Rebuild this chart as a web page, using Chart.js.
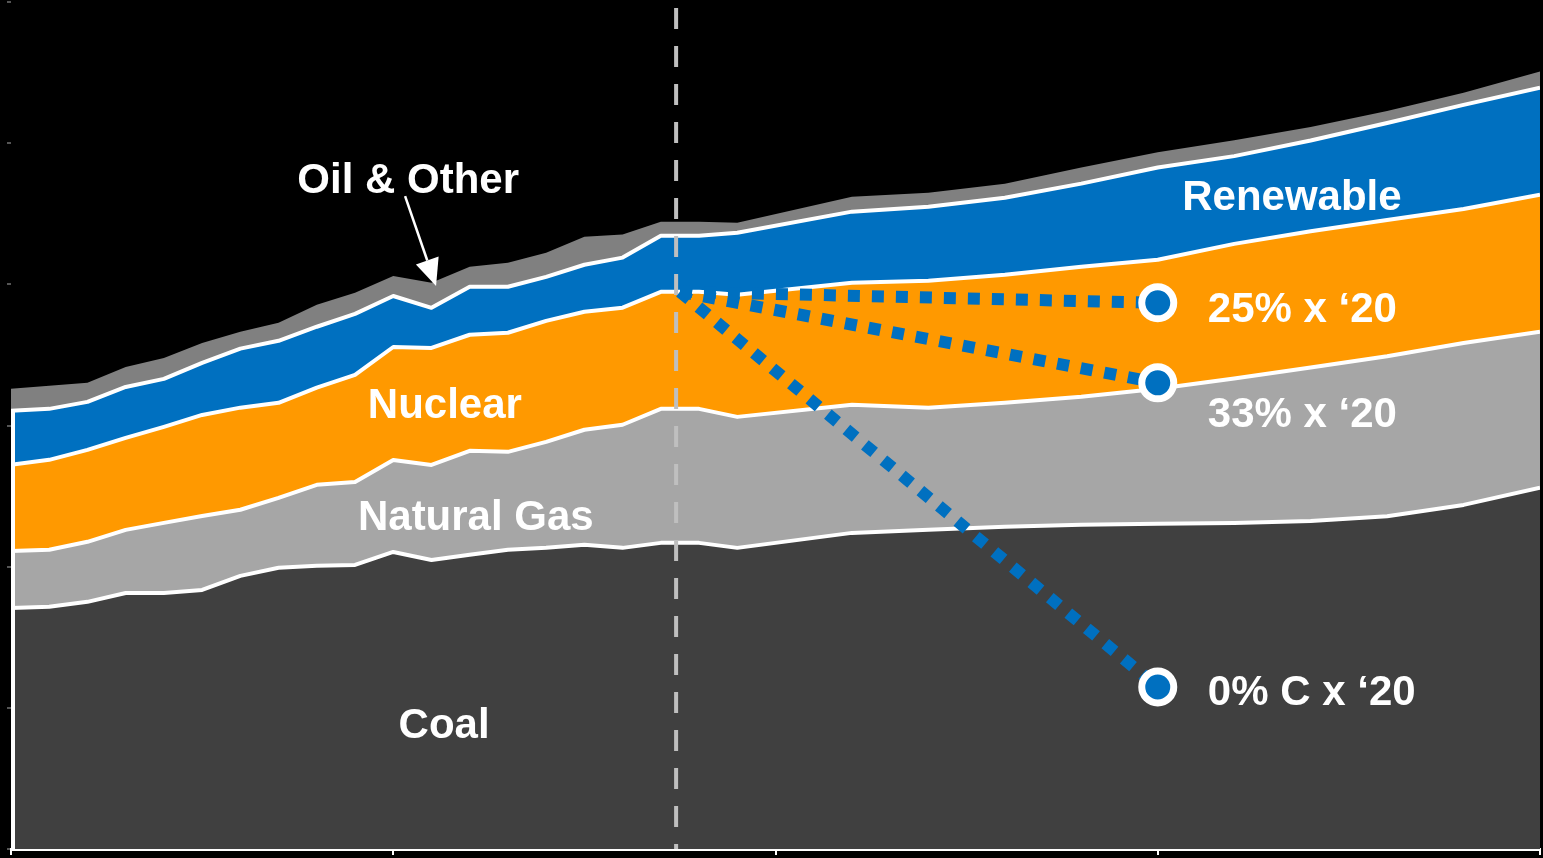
<!DOCTYPE html>
<html>
<head>
<meta charset="utf-8">
<script src="https://cdn.jsdelivr.net/npm/chart.js@4.4.1/dist/chart.umd.min.js"></script>
<style>
  html, body { margin: 0; padding: 0; background: #000; }
  canvas { display: block; }
</style>
</head>
<body>
<canvas id="genChart" width="1543" height="858"></canvas>
<script>
// Production électrique par source (TWh), historique puis projection
const years = [1990, 1991, 1992, 1993, 1994, 1995, 1996, 1997, 1998, 1999,
               2000, 2001, 2002, 2003, 2004, 2005, 2006, 2007, 2008, 2009,
               2012, 2014, 2016, 2018, 2020, 2022, 2024, 2026, 2028, 2030];
const coal = [1594, 1601, 1634, 1693, 1693, 1713, 1806, 1859, 1872, 1878,
              1964, 1911, 1945, 1978, 1991, 2011, 1991, 2024, 2024, 1991,
              2090, 2110, 2130, 2143, 2150, 2156, 2169, 2200, 2275, 2388];
const naturalGas = [377, 377, 397, 417, 463, 489, 437, 463, 536, 549,
                    608, 628, 688, 648, 701, 761, 814, 886, 886, 866,
                    847, 807, 820, 847, 893, 955, 1015, 1058, 1071, 1032];
const nuclear = [569, 595, 608, 608, 635, 668, 675, 628, 642, 708,
                 747, 774, 767, 787, 800, 780, 774, 774, 774, 807,
                 807, 840, 847, 860, 853, 890, 900, 900, 886, 906];
const renewable = [357, 337, 317, 337, 317, 344, 390, 410, 403, 403,
                   337, 265, 317, 304, 291, 311, 331, 370, 370, 410,
                   470, 489, 509, 549, 610, 580, 600, 642, 688, 708];
const oilOther = [146, 152, 126, 132, 139, 132, 112, 119, 146, 139,
                  132, 165, 132, 159, 159, 185, 152, 93, 93, 66,
                  99, 93, 93, 106, 100, 105, 90, 80, 80, 106];

// Scénarios de capture pour 2020
const splitYear = 2007.4;
const startYear = 2007.5;
const startValue = 3684;
const targetYear = 2020;
const targetNames = ['25% x \u201820', '33% x \u201820', '0% C x \u201820'];
const targetValues = [3611, 3082, 1071];

const xTicks = [1990, 2000, 2010, 2020, 2030];

const toPoints = arr => arr.map((v, i) => ({ x: years[i], y: v }));

const layers = [
    { label: 'Coal', data: coal, color: '#404040' },
    { label: 'Natural Gas', data: naturalGas, color: '#A6A6A6' },
    { label: 'Nuclear', data: nuclear, color: '#FF9900' },
    { label: 'Renewable', data: renewable, color: '#0070C0' },
    { label: 'Oil & Other', data: oilOther, color: '#808080' }
];

const areaSets = layers.map((l, i) => ({
    label: l.label,
    data: toPoints(l.data),
    backgroundColor: l.color,
    borderColor: i === layers.length - 1 ? 'rgba(0,0,0,0)' : '#ffffff',
    borderWidth: i === layers.length - 1 ? 0 : 4,
    borderJoinStyle: 'round',
    fill: i === 0 ? 'origin' : '-1',
    pointRadius: 0,
    tension: 0,
    order: 1
}));

const dividerSet = {
    label: 'today',
    data: [{ x: splitYear, y: 5560 }, { x: splitYear, y: 0 }],
    stack: 'divider',
    borderColor: '#BFBFBF',
    borderWidth: 4,
    borderDash: [21, 17],
    pointRadius: 0,
    fill: false,
    order: -1
};

const targetSets = targetValues.map((v, i) => ({
    label: targetNames[i],
    data: [{ x: startYear, y: startValue }, { x: targetYear, y: v }],
    stack: 'target' + i,
    borderColor: '#0070C0',
    borderWidth: 12,
    borderDash: [12, 12],
    borderCapStyle: 'butt',
    pointRadius: [0, 16],
    pointBackgroundColor: '#0070C0',
    pointBorderColor: '#ffffff',
    pointBorderWidth: 7,
    fill: false,
    order: -2
}));

// Textes posés en coordonnées de données
const notes = [
    { text: 'Oil & Other', year: 2000.39, value: 4337, align: 'center' },
    { text: 'Nuclear', year: 2001.35, value: 2850, align: 'center' },
    { text: 'Natural Gas', year: 2002.16, value: 2109, align: 'center' },
    { text: 'Coal', year: 2001.33, value: 734, align: 'center' },
    { text: 'Renewable', year: 2023.51, value: 4225, align: 'center' },
    { text: targetNames[0], year: 2021.31, value: 3484, align: 'left' },
    { text: targetNames[1], year: 2021.31, value: 2790, align: 'left' },
    { text: targetNames[2], year: 2021.31, value: 952, align: 'left' }
];
const arrowFrom = { year: 2000.31, value: 4317 };
const arrowTo = { year: 2001.12, value: 3722 };

const edgePlugin = {
    id: 'leftEdge',
    afterDatasetsDraw(chart) {
        const { ctx, scales: { x, y } } = chart;
        const top = coal[0] + naturalGas[0] + nuclear[0] + renewable[0];
        const px = x.getPixelForValue(years[0]) + 2;
        ctx.save();
        ctx.strokeStyle = '#ffffff';
        ctx.lineWidth = 4;
        ctx.beginPath();
        ctx.moveTo(px, y.getPixelForValue(top));
        ctx.lineTo(px, y.getPixelForValue(0));
        ctx.stroke();
        ctx.restore();
    }
};

const notesPlugin = {
    id: 'notes',
    afterDraw(chart) {
        const { ctx, scales: { x, y } } = chart;
        ctx.save();
        ctx.fillStyle = '#ffffff';
        ctx.font = 'bold 42px "Liberation Sans", Arial, sans-serif';
        ctx.textBaseline = 'alphabetic';
        notes.forEach(n => {
            ctx.textAlign = n.align;
            ctx.fillText(n.text, x.getPixelForValue(n.year), y.getPixelForValue(n.value));
        });

        // flèche vers la bande "Oil & Other"
        const x1 = x.getPixelForValue(arrowFrom.year), y1 = y.getPixelForValue(arrowFrom.value);
        const x2 = x.getPixelForValue(arrowTo.year), y2 = y.getPixelForValue(arrowTo.value);
        const ang = Math.atan2(y2 - y1, x2 - x1);
        const headLen = 27, headHalf = 12;
        const bx = x2 - headLen * Math.cos(ang), by = y2 - headLen * Math.sin(ang);
        ctx.strokeStyle = '#ffffff';
        ctx.lineWidth = 2.5;
        ctx.beginPath();
        ctx.moveTo(x1, y1);
        ctx.lineTo(bx, by);
        ctx.stroke();
        ctx.beginPath();
        ctx.moveTo(x2, y2);
        ctx.lineTo(bx + headHalf * Math.sin(ang), by - headHalf * Math.cos(ang));
        ctx.lineTo(bx - headHalf * Math.sin(ang), by + headHalf * Math.cos(ang));
        ctx.closePath();
        ctx.fill();
        ctx.restore();
    }
};

const ctx = document.getElementById('genChart').getContext('2d');
new Chart(ctx, {
    type: 'line',
    data: { datasets: [...areaSets, dividerSet, ...targetSets] },
    options: {
        responsive: false,
        animation: false,
        layout: { autoPadding: false, padding: { left: 7, right: 3, top: 2, bottom: 3 } },
        scales: {
            x: {
                type: 'linear',
                min: xTicks[0],
                max: xTicks[xTicks.length - 1],
                afterBuildTicks: axis => { axis.ticks = xTicks.map(v => ({ value: v })); },
                ticks: { display: false },
                grid: { drawOnChartArea: false, tickLength: 6, color: '#ffffff', lineWidth: 2 },
                border: { color: '#ffffff', width: 3 }
            },
            y: {
                stacked: true,
                min: 0,
                max: 5600,
                ticks: { stepSize: 1000, display: false },
                grid: { drawOnChartArea: false, tickLength: 4, color: '#555555', lineWidth: 2 },
                border: { display: false }
            }
        },
        plugins: {
            legend: { display: false },
            tooltip: { enabled: false }
        }
    },
    plugins: [edgePlugin, notesPlugin]
});
</script>
</body>
</html>
